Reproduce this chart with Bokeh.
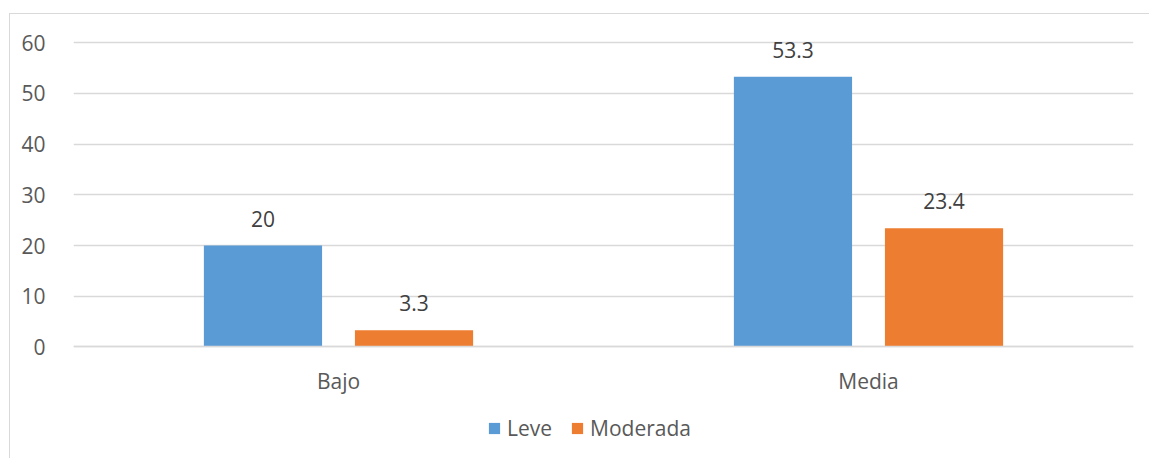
from bokeh.plotting import figure
from bokeh.models import (ColumnDataSource, FactorRange, LabelSet, Legend,
                          LegendItem, FixedTicker)
from bokeh.core.properties import value
from bokeh.transform import dodge
from bokeh.embed import file_html
from bokeh.resources import INLINE

# Data
categories = ["Bajo", "Media"]
leve = [20, 53.3]
moderada = [3.3, 23.4]
y_ticks = [0, 10, 20, 30, 40, 50, 60]

BLUE = "#5B9BD5"
ORANGE = "#ED7D31"
GRID = "#D9D9D9"
FONT = "Open Sans"

source = ColumnDataSource(dict(
    cat=categories,
    leve=leve,
    moderada=moderada,
    leve_txt=[f"{v:g}" for v in leve],
    moderada_txt=[f"{v:g}" for v in moderada],
))

# The frame reaches below zero so the category labels and the legend
# can sit inside it; the x axis is pinned to y = 0.
Y_LO, Y_HI = -22, 63
PX_PER_UNIT = 304 / 60

p = figure(
    x_range=FactorRange(*categories, range_padding=0),
    y_range=(Y_LO, Y_HI),
    frame_width=1060, frame_height=round((Y_HI - Y_LO) * PX_PER_UNIT),
    min_border_left=63, min_border_right=16,
    min_border_top=13, min_border_bottom=0,
    output_backend="svg", toolbar_location=None,
    background_fill_color="white", border_fill_color="white",
    margin=(13, 0, 0, 9),
    styles={"border-top": "1.5px solid #D9D9D9",
            "border-left": "1.5px solid #D9D9D9"},
)
p.outline_line_color = None

off = 0.1425
w = 0.223
r1 = p.vbar(x=dodge("cat", -off, range=p.x_range), top="leve", width=w,
            source=source, fill_color=BLUE, line_color=None)
r2 = p.vbar(x=dodge("cat", off, range=p.x_range), top="moderada", width=w,
            source=source, fill_color=ORANGE, line_color=None)

for col, d in (("leve", -off), ("moderada", off)):
    p.add_layout(LabelSet(
        x=dodge("cat", d, range=p.x_range), y=col, text=col + "_txt",
        source=source, text_align="center", text_baseline="alphabetic",
        y_offset=19, text_font=value(FONT), text_font_size="21px",
        text_color="#404040"))

# Axes
p.yaxis.ticker = FixedTicker(ticks=y_ticks)
p.yaxis.axis_line_color = None
p.yaxis.major_tick_line_color = None
p.yaxis.minor_tick_line_color = None
p.yaxis.major_label_standoff = 22
p.yaxis.major_label_text_font = FONT
p.yaxis.major_label_text_font_size = "21px"
p.yaxis.major_label_text_color = "#595959"

p.xaxis.fixed_location = 0
p.xaxis.axis_line_color = GRID
p.xaxis.axis_line_width = 1.5
p.xaxis.major_tick_line_color = None
p.xaxis.minor_tick_line_color = None
p.xaxis.major_label_standoff = 14
p.xaxis.major_label_text_font = FONT
p.xaxis.major_label_text_font_size = "21px"
p.xaxis.major_label_text_color = "#595959"

p.xgrid.grid_line_color = None
p.ygrid.grid_line_color = GRID
p.ygrid.grid_line_width = 1.5

# Legend under the category labels
legend = Legend(
    items=[LegendItem(label="Leve", renderers=[r1]),
           LegendItem(label="Moderada", renderers=[r2])],
    orientation="horizontal", location=(414, 16),
    label_text_font=FONT, label_text_font_size="21px",
    label_text_color="#595959",
    glyph_width=14, glyph_height=14, label_standoff=6, spacing=18,
    border_line_color=None, background_fill_alpha=0,
    margin=0, padding=0,
)
p.add_layout(legend)

open("out.html", "w").write(file_html(p, INLINE))
